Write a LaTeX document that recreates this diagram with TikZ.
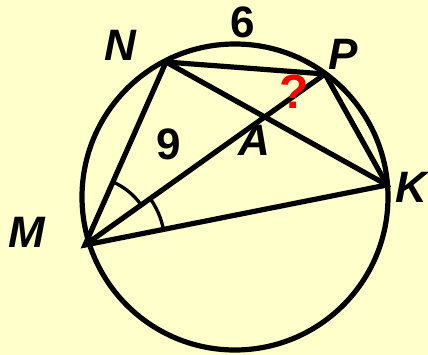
\documentclass[tikz,border=0pt]{standalone}
\usepackage{fontspec}
\setmainfont{Liberation Sans}
\definecolor{bgyellow}{RGB}{255,255,204}
\definecolor{qred}{RGB}{255,0,0}
\begin{document}
\begin{tikzpicture}[x=1pt,y=-1pt,line width=5.2pt,
  lbl/.style={font=\fontsize{44}{44}\selectfont\bfseries\itshape,inner sep=0pt},
  num/.style={font=\fontsize{44}{44}\selectfont\bfseries,inner sep=0pt},
  anglemark/.style={line width=3.3pt}]
\fill[bgyellow] (0,0) rectangle (428,355);
\useasboundingbox (0,0) rectangle (428,355);
\coordinate (O) at (235,197);
\coordinate (M) at (85,245);
\coordinate (N) at (166,62);
\coordinate (P) at (325,74);
\coordinate (K) at (387,185);
\draw (O) circle[radius=153];
\draw (M) -- (N) -- (P) -- (K) -- cycle;
\draw (M) -- (P);
\draw (N) -- (K);
\draw[anglemark] (M) ++(-66:69) arc[start angle=-66,end angle=-36,radius=69];
\draw[anglemark] (M) ++(-35.7:80) arc[start angle=-35.7,end angle=-11.2,radius=80];
\node[lbl] (lN) at (120,45) {N};
\node[lbl] (lP) at (343,54) {P};
\node[lbl] (lK) at (411,187) {K};
\node[lbl] (lM) at (27,232) {M};
\node[lbl] (lA) at (254,140) {A};
\node[num] (l6) at (243,22) {6};
\node[num] (l9) at (169,144) {9};
\node[num,text=qred] (lq) at (294,92) {\fontsize{48}{48}\selectfont ?};
\end{tikzpicture}
\end{document}
